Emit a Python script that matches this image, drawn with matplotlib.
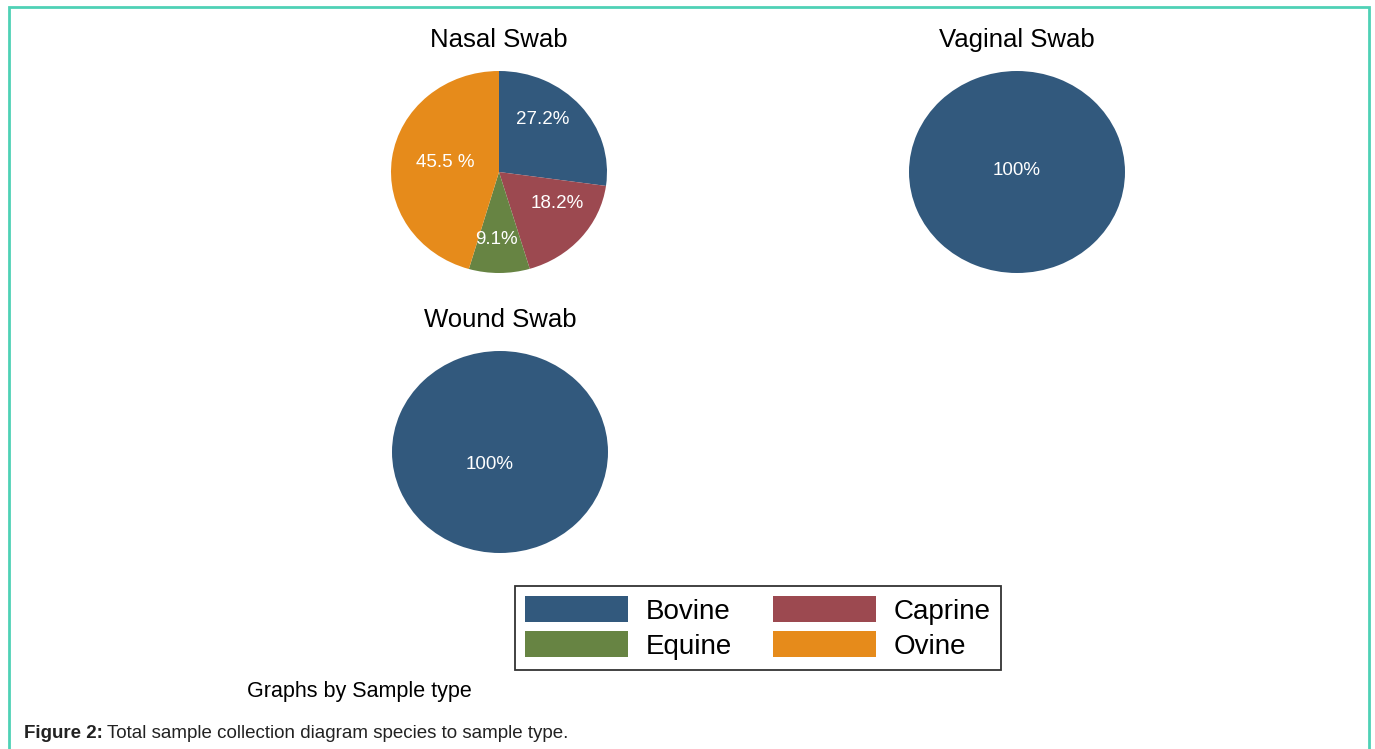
import numpy as np
import matplotlib.pyplot as plt
from matplotlib.patches import Patch, Rectangle

plt.rcParams['font.family'] = ['Liberation Sans', 'DejaVu Sans']

# Species and colours (Stata-like s2color palette)
species = ["Bovine", "Caprine", "Equine", "Ovine"]
colors = {"Bovine": "#32597d", "Caprine": "#9c4950",
          "Equine": "#678443", "Ovine": "#e68b1b"}

# Percentages per sample type
nasal_species = ["Bovine", "Caprine", "Equine", "Ovine"]
nasal_pct = [27.2, 18.2, 9.1, 45.5]
nasal_labels = ["27.2%", "18.2%", "9.1%", "45.5 %"]
# label anchor points inside the unit circle (x, y)
nasal_label_pos = [(0.40, 0.52), (0.54, -0.31), (-0.02, -0.67), (-0.50, 0.09)]

vaginal_species = ["Bovine"]
vaginal_pct = [100]
vaginal_labels = ["100%"]
vaginal_label_pos = [(0.0, 0.01)]

wound_species = ["Bovine"]
wound_pct = [100]
wound_labels = ["100%"]
wound_label_pos = [(-0.10, -0.12)]

W, H = 1375, 749
fig = plt.figure(figsize=(W / 100, H / 100), dpi=100)

# outer teal frame
fig.patches.append(Rectangle((8.5 / W, -0.05), (1369 - 8.5) / W, 1.05 - 6.5 / H,
                             transform=fig.transFigure, fill=False,
                             edgecolor="#4fd1b6", linewidth=2))

LIM = 1.1


def pie_axes(cx, cy, rx, ry):
    # axes placed so the unit circle maps onto an ellipse rx by ry pixels
    w, h = 2 * rx * LIM, 2 * ry * LIM
    ax = fig.add_axes([(cx - w / 2) / W, 1 - (cy + h / 2) / H, w / W, h / H])
    return ax


def draw_pie(ax, names, vals, labels, label_pos, title):
    ax.pie(vals, colors=[colors[n] for n in names],
           startangle=90, counterclock=False,
           wedgeprops=dict(linewidth=0.5, edgecolor="none"))
    for lab, (x, y) in zip(labels, label_pos):
        ax.text(x, y, lab, color="white", fontsize=13.5, ha="center", va="center")
    ax.set_aspect("auto")
    ax.set_xlim(-LIM, LIM)
    ax.set_ylim(-LIM, LIM)
    ax.text(0, 1.31, title, ha="center", va="center", fontsize=18.5)


ax1 = pie_axes(499, 172, 108, 101)
draw_pie(ax1, nasal_species, nasal_pct, nasal_labels, nasal_label_pos, "Nasal Swab")

ax2 = pie_axes(1017, 172, 108, 101)
draw_pie(ax2, vaginal_species, vaginal_pct, vaginal_labels, vaginal_label_pos, "Vaginal Swab")

ax3 = pie_axes(500, 452, 108, 101)
draw_pie(ax3, wound_species, wound_pct, wound_labels, wound_label_pos, "Wound Swab")

# legend filled row-wise: Bovine, Caprine / Equine, Ovine
order = ["Bovine", "Equine", "Caprine", "Ovine"]
handles = [Patch(facecolor=colors[s], edgecolor="none") for s in order]
leg = fig.legend(handles, order, ncol=2, loc="center",
                 bbox_to_anchor=(758 / W, 1 - 628 / H), fontsize=20,
                 frameon=True, fancybox=False, edgecolor="black",
                 handlelength=3.7, handleheight=1.05, handletextpad=0.65,
                 columnspacing=1.45, labelspacing=0.25, borderpad=0.38)
leg.get_frame().set_linewidth(1.3)

fig.text(359 / W, 1 - 692 / H, "Graphs by Sample type", ha="center", va="center",
         fontsize=15.5)

# caption: bold prefix followed by normal text
cap = fig.text(24 / W, 1 - 733 / H, "Figure 2:", ha="left", va="center",
               fontsize=13.5, fontweight="bold", color="#222222")
fig.canvas.draw()
bb = cap.get_window_extent()
fig.text((bb.x1 + 4) / W, 1 - 733 / H,
         "Total sample collection diagram species to sample type.",
         ha="left", va="center", fontsize=13.5, color="#222222")

plt.savefig("out.png", dpi=100)
